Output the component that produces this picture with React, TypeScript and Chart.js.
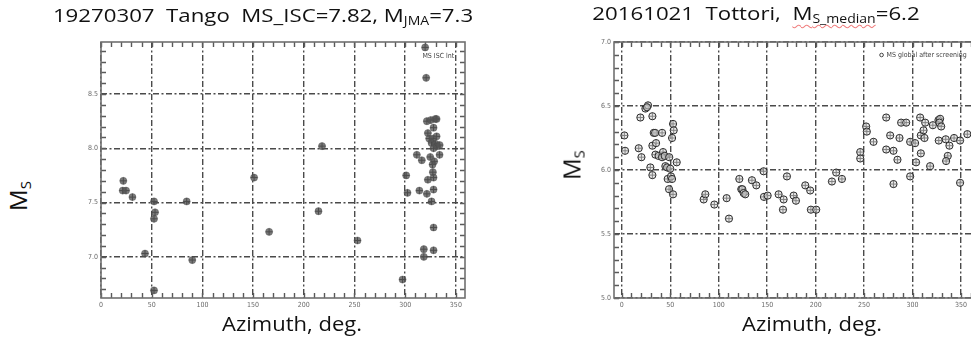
import React, { useEffect, useRef } from "react";
import { Chart, registerables } from "chart.js";

Chart.register(...registerables);

// ---------- data ----------
const TANGO_AZ = [22, 21.4, 24.7, 31, 43.4, 52.3, 53.3, 52.3, 52.3, 84.5, 90, 151, 165.8, 214.5, 218, 253, 297.4, 301, 302.3, 311.5, 316.4, 314, 320.7, 319.7, 321.4, 325.3, 329.6, 331, 322.4, 328, 323.7, 327.6, 331, 326, 330, 331.6, 328, 324.7, 333.9, 328.6, 327, 327.3, 328, 322.4, 321.4, 328, 326, 328, 318.4, 328, 318.4, 334];
const TANGO_MS = [7.7, 7.61, 7.61, 7.55, 7.03, 7.51, 7.41, 7.35, 6.69, 7.51, 6.97, 7.73, 7.23, 7.42, 8.02, 7.15, 6.79, 7.75, 7.59, 7.94, 7.89, 7.61, 8.65, 8.93, 8.25, 8.26, 8.27, 8.27, 8.14, 8.19, 8.09, 8.09, 8.11, 8.05, 8.04, 8.02, 8.0, 7.92, 7.94, 7.88, 7.85, 7.78, 7.73, 7.71, 7.58, 7.62, 7.51, 7.27, 7.07, 7.06, 7.0, 8.03];

const TOTTORI_AZ = [2.7, 3.4, 17.5, 19.2, 20.3, 24.4, 27.1, 26, 31.6, 29.5, 31.6, 33, 34.4, 31.6, 35.4, 34.7, 38, 41.6, 42.6, 41.6, 44.3, 45, 46.7, 47.4, 49, 48.8, 50, 50.8, 51.9, 52.9, 53.6, 51.9, 52.9, 56.7, 84.5, 86.2, 95.5, 108.2, 110.6, 121.3, 123.3, 124.4, 125.7, 127.4, 134.3, 138.8, 146.3, 146.7, 150.5, 161.8, 167, 166.3, 170.4, 177.3, 179.7, 189.3, 194.4, 195.1, 200.6, 216.8, 221.2, 227.1, 246, 246, 252.1, 252.8, 259.7, 272.8, 272.8, 276.9, 280.3, 280.3, 284.4, 286.5, 288.2, 293.4, 297.5, 297.5, 302.6, 303.6, 307.8, 308.5, 311.3, 313, 312.3, 308.5, 318.1, 320.9, 326.7, 328.4, 327.7, 329.5, 327, 334.2, 338, 336.3, 334.6, 342.8, 349, 349, 356.5];
const TOTTORI_MS = [6.27, 6.15, 6.17, 6.41, 6.1, 6.48, 6.505, 6.49, 6.42, 6.02, 5.96, 6.29, 6.29, 6.19, 6.21, 6.12, 6.11, 6.29, 6.14, 6.1, 6.11, 6.03, 6.02, 5.93, 6.1, 5.85, 6.01, 5.95, 5.93, 6.36, 6.31, 6.25, 5.81, 6.06, 5.77, 5.81, 5.73, 5.78, 5.62, 5.93, 5.85, 5.85, 5.82, 5.81, 5.92, 5.88, 5.99, 5.79, 5.8, 5.81, 5.77, 5.69, 5.95, 5.8, 5.76, 5.88, 5.84, 5.69, 5.69, 5.91, 5.98, 5.93, 6.14, 6.09, 6.34, 6.3, 6.22, 6.41, 6.16, 6.27, 6.15, 5.89, 6.08, 6.25, 6.37, 6.37, 6.22, 5.95, 6.21, 6.06, 6.41, 6.27, 6.31, 6.37, 6.25, 6.13, 6.03, 6.35, 6.39, 6.4, 6.37, 6.34, 6.23, 6.24, 6.19, 6.11, 6.07, 6.25, 6.23, 5.9, 6.28];

const X_TICKS = [0, 50, 100, 150, 200, 250, 300, 350];
const TANGO_Y_TICKS = [7.0, 7.5, 8.0, 8.5];
const TOTTORI_Y_TICKS = [5.0, 5.5, 6.0, 6.5, 7.0];

const zip = (xs: number[], ys: number[]) => xs.map((x, i) => ({ x, y: ys[i] }));

// ---------- frame / minor ticks / in-plot legend plugin ----------
const framePlugin = {
  id: "frame",
  afterDraw(chart: any, _args: any, opts: any) {
    const { ctx, chartArea: a, scales } = chart;
    const xs = scales.x;
    const ys = scales.y;
    ctx.save();
    ctx.setLineDash([]);
    ctx.strokeStyle = "#5a5a5a";
    ctx.lineWidth = 1.4;
    ctx.beginPath();
    const k0 = Math.ceil(xs.min / opts.xMinor - 1e-9);
    const k1 = Math.floor(xs.max / opts.xMinor + 1e-9);
    for (let k = k0; k <= k1; k++) {
      const px = Math.round(xs.getPixelForValue(k * opts.xMinor)) + 0.5;
      ctx.moveTo(px, a.bottom);
      ctx.lineTo(px, a.bottom - 5);
      ctx.moveTo(px, a.top);
      ctx.lineTo(px, a.top + 5);
    }
    const j0 = Math.ceil(ys.min / opts.yMinor - 1e-9);
    const j1 = Math.floor(ys.max / opts.yMinor + 1e-9);
    for (let j = j0; j <= j1; j++) {
      const py = Math.round(ys.getPixelForValue(j * opts.yMinor)) + 0.5;
      ctx.moveTo(a.left, py);
      ctx.lineTo(a.left + 5, py);
      ctx.moveTo(a.right, py);
      ctx.lineTo(a.right - 5, py);
    }
    ctx.stroke();
    ctx.lineWidth = 1.6;
    ctx.strokeStyle = "#707070";
    ctx.strokeRect(a.left, a.top, a.right - a.left, a.bottom - a.top);

    // legend text inside plot
    ctx.fillStyle = "#444";
    ctx.font = '7px "DejaVu Sans Condensed", "DejaVu Sans", sans-serif';
    ctx.textBaseline = "middle";
    ctx.textAlign = "left";
    const lx = xs.getPixelForValue(opts.legendX);
    const ly = a.top + opts.legendDy;
    if (opts.legendSymbol) {
      ctx.strokeStyle = "#444";
      ctx.lineWidth = 1;
      ctx.beginPath();
      ctx.arc(lx, ly, 1.8, 0, Math.PI * 2);
      ctx.stroke();
      ctx.fillText(opts.legendText, lx + 5, ly);
    } else {
      ctx.fillText(opts.legendText, lx, ly);
    }
    ctx.restore();
  },
};

type PanelCfg = {
  width: number;
  height: number;
  yAxisW: number;
  xAxisH: number;
  padTop: number;
  padRight: number;
  xMin: number;
  xMax: number;
  yMin: number;
  yMax: number;
  yTicks: number[];
  points: { x: number; y: number }[];
  filled: boolean;
  legendText: string;
  legendX: number;
  legendDy: number;
  legendSymbol: boolean;
};

const tickFont = { family: '"DejaVu Sans Condensed", "DejaVu Sans", sans-serif', size: 7 };

function buildConfig(c: PanelCfg): any {
  const dash = [6, 2.5, 2, 2.5];
  return {
    type: "scatter",
    data: {
      datasets: [
        {
          data: c.points,
          pointStyle: "circle",
          pointRadius: 3.6,
          backgroundColor: c.filled ? "rgba(85,85,85,0.78)" : "rgba(215,215,215,0.55)",
          borderColor: c.filled ? "rgba(70,70,70,0.6)" : "#2a2a2a",
          borderWidth: c.filled ? 0.5 : 1,
        },
        {
          data: c.points,
          pointStyle: "cross",
          pointRadius: 3.4,
          borderColor: c.filled ? "#2b2b2b" : "#1e1e1e",
          backgroundColor: "transparent",
          borderWidth: 1,
        },
      ],
    },
    options: {
      animation: false,
      responsive: false,
      devicePixelRatio: 1,
      events: [],
      layout: { padding: { top: c.padTop, right: c.padRight, left: 0, bottom: 0 } },
      plugins: {
        legend: { display: false },
        tooltip: { enabled: false },
        title: { display: false },
        frame: {
          xMinor: 10,
          yMinor: 0.1,
          legendText: c.legendText,
          legendX: c.legendX,
          legendDy: c.legendDy,
          legendSymbol: c.legendSymbol,
        },
      },
      scales: {
        x: {
          type: "linear",
          min: c.xMin,
          max: c.xMax,
          afterBuildTicks: (s: any) => {
            s.ticks = X_TICKS.map((v) => ({ value: v }));
          },
          afterFit: (s: any) => {
            s.height = c.xAxisH;
          },
          ticks: {
            autoSkip: false,
            maxRotation: 0,
            padding: 3,
            color: "#6a6a6a",
            font: tickFont,
            callback: (v: any) => String(v),
          },
          grid: { color: "#4a4a4a", lineWidth: 1.4, drawTicks: false },
          border: { display: false, dash },
        },
        y: {
          type: "linear",
          min: c.yMin,
          max: c.yMax,
          afterBuildTicks: (s: any) => {
            s.ticks = c.yTicks.map((v) => ({ value: v }));
          },
          afterFit: (s: any) => {
            s.width = c.yAxisW;
          },
          ticks: {
            autoSkip: false,
            padding: 3,
            color: "#6a6a6a",
            font: tickFont,
            callback: (v: any) => Number(v).toFixed(1),
          },
          grid: { color: "#4a4a4a", lineWidth: 1.4, drawTicks: false },
          border: { display: false, dash },
        },
      },
    },
    plugins: [framePlugin],
  };
}

function Panel({ cfg, left, top }: { cfg: PanelCfg; left: number; top: number }) {
  const ref = useRef<HTMLCanvasElement | null>(null);
  useEffect(() => {
    if (!ref.current) return;
    const chart = new Chart(ref.current, buildConfig(cfg));
    return () => chart.destroy();
  }, []);
  return (
    <canvas
      ref={ref}
      width={cfg.width}
      height={cfg.height}
      style={{ position: "absolute", left, top, width: cfg.width, height: cfg.height }}
    />
  );
}

const LEFT_CFG: PanelCfg = {
  width: 430,
  height: 290,
  yAxisW: 41,
  xAxisH: 22,
  padTop: 12,
  padRight: 25,
  xMin: 0,
  xMax: 359,
  yMin: 6.62,
  yMax: 8.98,
  yTicks: TANGO_Y_TICKS,
  points: zip(TANGO_AZ, TANGO_MS),
  filled: true,
  legendText: "MS ISC lnt",
  legendX: 317,
  legendDy: 14,
  legendSymbol: false,
};

const RIGHT_CFG: PanelCfg = {
  width: 440,
  height: 290,
  yAxisW: 54,
  xAxisH: 22,
  padTop: 12,
  padRight: 21.5,
  xMin: -8,
  xMax: 368,
  yMin: 5.0,
  yMax: 7.0,
  yTicks: TOTTORI_Y_TICKS,
  points: zip(TOTTORI_AZ, TOTTORI_MS),
  filled: false,
  legendText: "MS global after screening",
  legendX: 268,
  legendDy: 13,
  legendSymbol: true,
};

const textFont = '"Open Sans", "Noto Sans", sans-serif';

const titleStyle = (left: number, top: number): React.CSSProperties => ({
  position: "absolute",
  left,
  top,
  transform: "translateX(-50%) scaleX(1.17)",
  whiteSpace: "pre",
  fontSize: 19,
  lineHeight: "26px",
});

const xLabelStyle = (left: number): React.CSSProperties => ({
  position: "absolute",
  left,
  top: 311,
  transform: "translateX(-50%) scaleX(1.1)",
  whiteSpace: "pre",
  fontSize: 20,
  lineHeight: "26px",
});

const yLabelStyle = (left: number, top: number): React.CSSProperties => ({
  position: "absolute",
  left,
  top,
  transform: "translate(-50%, -50%) rotate(-90deg)",
  whiteSpace: "pre",
  fontSize: 24,
  lineHeight: "30px",
});

export default function App() {
  return (
    <div
      style={{
        position: "absolute",
        left: 0,
        top: 0,
        width: 971,
        height: 346,
        overflow: "hidden",
        background: "#fff",
        fontFamily: textFont,
        color: "#111",
      }}
    >
      <Panel cfg={LEFT_CFG} left={60} top={30} />
      <Panel cfg={RIGHT_CFG} left={560} top={30} />

      {/* titles */}
      <div style={titleStyle(263, 2)}>
        {"19270307  Tango  MS_ISC=7.82, M"}
        <sub style={{ fontSize: 12, verticalAlign: "-3px" }}>JMA</sub>
        {"=7.3"}
      </div>
      <div style={titleStyle(756, 0)}>
        {"20161021  Tottori,  "}
        <span style={{ textDecoration: "underline wavy #f08080", textDecorationThickness: 1, textUnderlineOffset: 4 }}>
          M<sub style={{ fontSize: 12, verticalAlign: "-3px" }}>S_median</sub>
        </span>
        {"=6.2"}
      </div>

      {/* y-axis labels */}
      <div style={yLabelStyle(21, 196)}>
        M<sub style={{ fontSize: 15, verticalAlign: "-4px" }}>S</sub>
      </div>
      <div style={yLabelStyle(575, 165)}>
        M<sub style={{ fontSize: 15, verticalAlign: "-4px" }}>S</sub>
      </div>

      {/* x-axis labels */}
      <div style={xLabelStyle(292)}>Azimuth, deg.</div>
      <div style={xLabelStyle(812)}>Azimuth, deg.</div>
    </div>
  );
}
